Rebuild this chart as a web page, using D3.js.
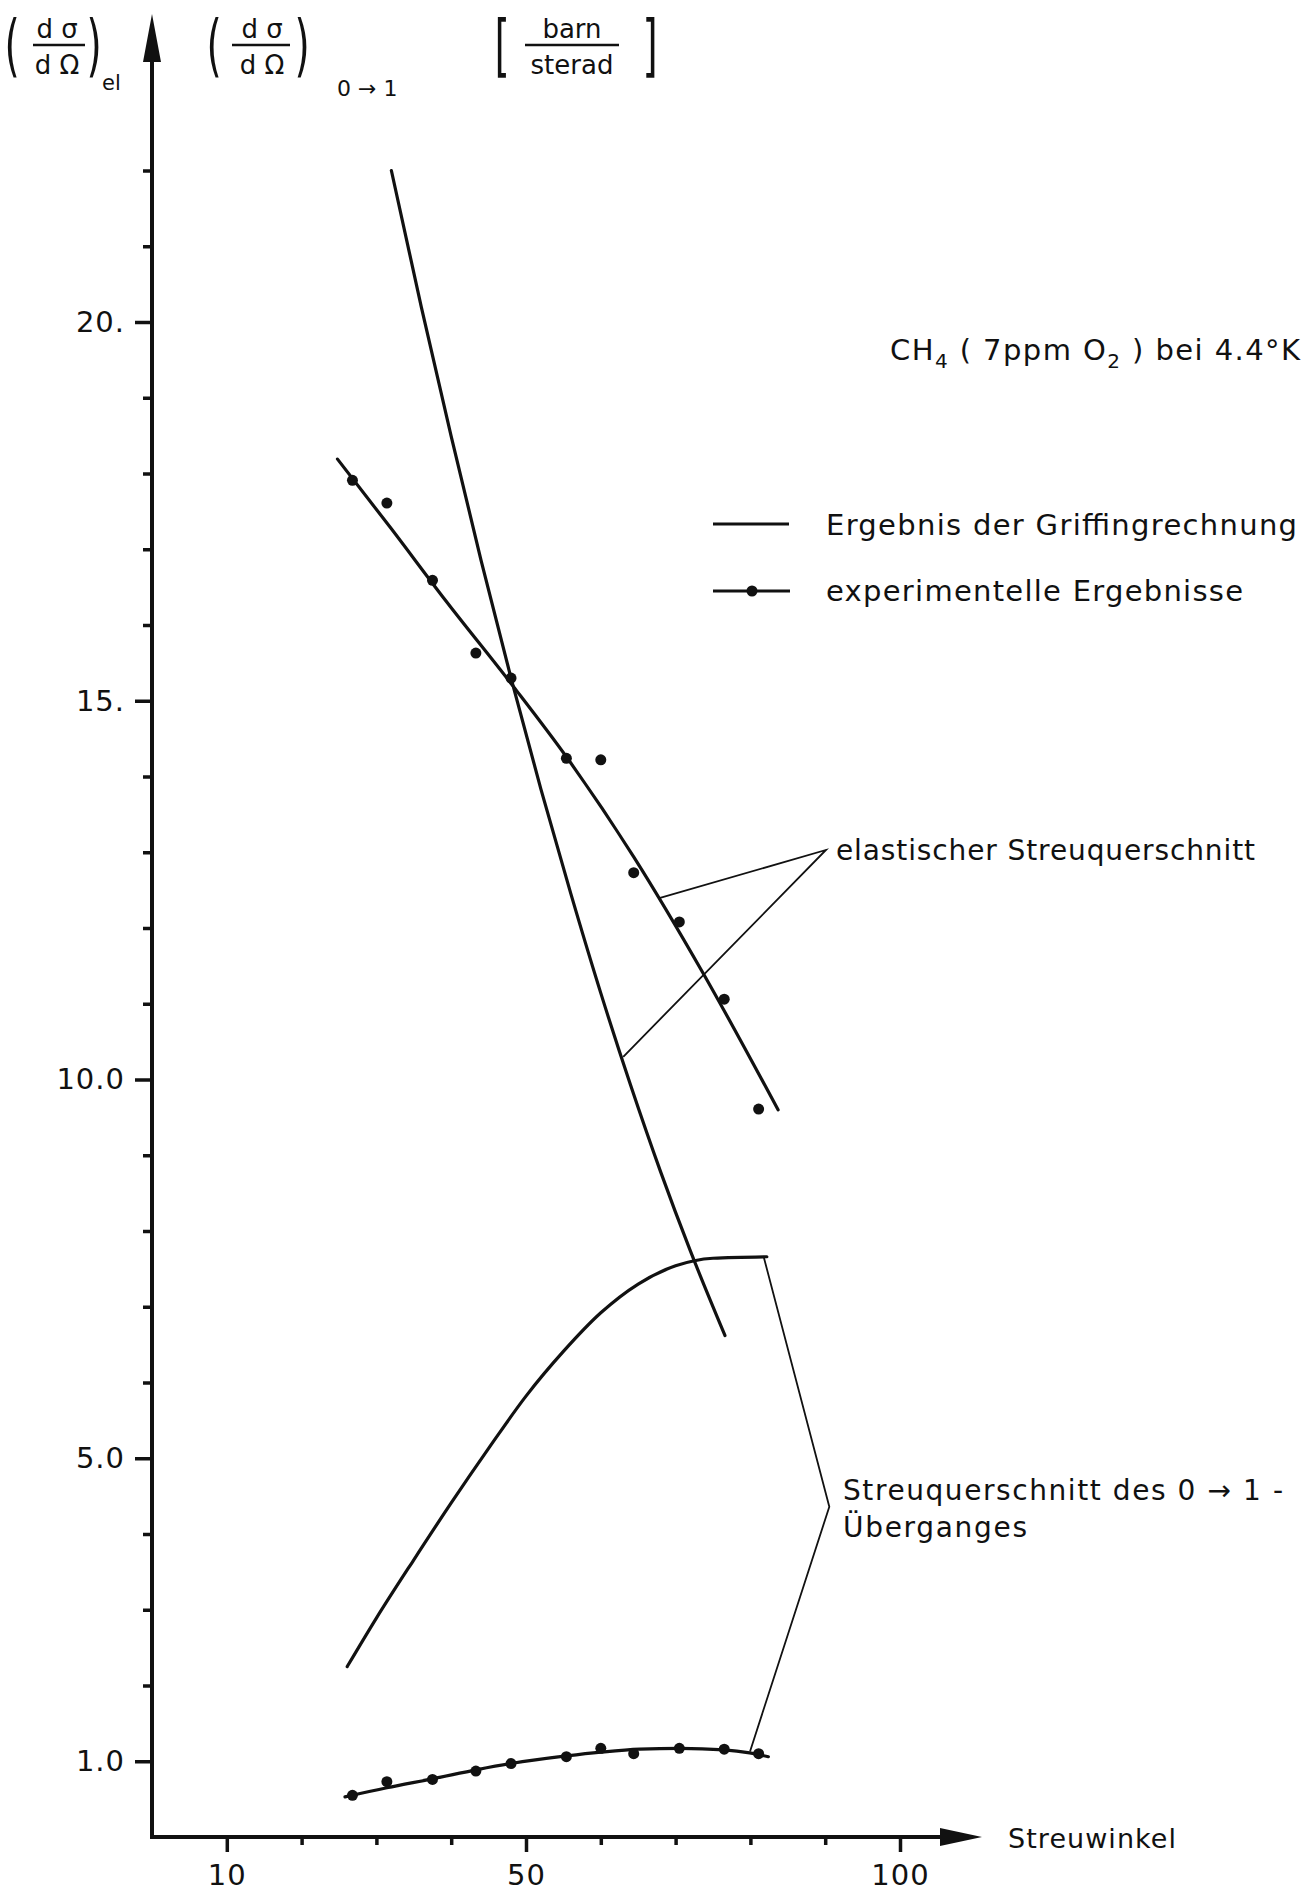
<!DOCTYPE html>
<html>
<head>
<meta charset="utf-8">
<title>CH4 Streuquerschnitt</title>
<style>
  body { margin: 0; background: #fff; }
  text { font-family: "DejaVu Sans", sans-serif; fill: #111; }
</style>
</head>
<body>
<svg id="chart" width="1316" height="1891"></svg>
<script src="https://cdnjs.cloudflare.com/ajax/libs/d3/7.8.5/d3.min.js"></script>
<script>

// experimental points (Streuwinkel in degrees)
const expAngle   = [26.8, 31.4, 37.5, 43.3, 48.0, 55.4, 60.0, 64.4, 70.5, 76.5, 81.1];
const expElastic = [17.91, 17.61, 16.59, 15.63, 15.30, 14.24, 14.22, 12.73, 12.08, 11.06, 9.61];
const expTrans   = [0.55, 0.73, 0.76, 0.87, 0.97, 1.06, 1.17, 1.10, 1.17, 1.16, 1.10];

// curves drawn through the experimental points
const fitElasticAngle = [24.8, 32, 39.2, 48.3, 55.4, 64.4, 73.7, 83.7];
const fitElasticValue = [18.19, 17.27, 16.33, 15.19, 14.26, 12.94, 11.40, 9.60];
const fitTransAngle = [25.8, 31.4, 37.6, 43.5, 48, 55.4, 60, 65.2, 70.6, 76.5, 79.9, 82.4];
const fitTransValue = [0.53, 0.65, 0.77, 0.89, 0.97, 1.07, 1.12, 1.16, 1.17, 1.15, 1.11, 1.06];

// Griffing calculation
const griffElasticAngle = [32, 36, 40, 44, 48, 52, 56, 60, 64, 68, 72, 76.6];
const griffElasticValue = [22.0, 20.2, 18.49, 16.85, 15.3, 13.83, 12.45, 11.14, 9.92, 8.78, 7.73, 6.62];
const griffTransAngle = [26.1, 30, 35, 40, 45, 50, 55, 60, 65, 70, 75, 82.2];
const griffTransValue = [2.25, 2.89, 3.66, 4.41, 5.13, 5.82, 6.41, 6.92, 7.3, 7.54, 7.64, 7.66];

// ticks
const xTicks = [10, 20, 30, 40, 50, 60, 70, 80, 90, 100];
const xTickLabels = {10: "10", 50: "50", 100: "100"};
const yTicks = d3.range(1, 23);
const yTickLabels = {1: "1.0", 5: "5.0", 10: "10.0", 15: "15.", 20: "20."};

// leader lines of the annotations, [angle, value]
const elasticLeaders = [[67.7, 12.39], [90.1, 13.03], [63.0, 10.3]];
const transLeaders = [[81.8, 7.65], [90.55, 4.36], [79.95, 1.13]];

let svg = d3.select("#chart");

let x = d3.scaleLinear().domain([0, 100]).range([152, 900]);
let y = d3.scaleLinear().domain([0, 22]).range([1837, 1837 - 22 * 75.75]);

let zip = (a, b) => a.map((v, i) => [v, b[i]]);

// axes: minor and major ticks
let gy = svg.append("g").attr("transform", "translate(152,0)");
gy.append("g").call(d3.axisLeft(y).tickValues(yTicks.filter(t => !yTickLabels[t])).tickSize(9).tickFormat(""));
gy.append("g").call(d3.axisLeft(y).tickValues(Object.keys(yTickLabels).map(Number))
    .tickSize(17).tickPadding(10).tickFormat(d => yTickLabels[d]));

let gx = svg.append("g").attr("transform", "translate(0,1837)");
gx.append("g").call(d3.axisBottom(x).tickValues(xTicks.filter(t => !xTickLabels[t])).tickSize(8).tickFormat(""));
gx.append("g").call(d3.axisBottom(x).tickValues(Object.keys(xTickLabels).map(Number))
    .tickSize(15).tickPadding(12).tickFormat(d => xTickLabels[d]));

svg.selectAll(".domain").remove();
svg.selectAll(".tick line").attr("stroke", "#111").attr("stroke-width", 3.5);
svg.selectAll(".tick text").attr("font-size", 29).attr("fill", "#111")
    .attr("letter-spacing", 1).style("font-family", "DejaVu Sans");

// axis lines with arrows
svg.append("path").attr("d", "M152,1839 L152,50").attr("stroke", "#111").attr("stroke-width", 4);
svg.append("path").attr("d", "M152,14 L161,62 L143,62 Z").attr("fill", "#111");
svg.append("path").attr("d", "M150,1837 L950,1837").attr("stroke", "#111").attr("stroke-width", 4);
svg.append("path").attr("d", "M982,1837 L940,1828 L940,1846 Z").attr("fill", "#111");

svg.append("text").attr("x", 1008).attr("y", 1848).attr("font-size", 27)
   .attr("textLength", 168).text("Streuwinkel");

// curves
let line = d3.line().x(d => x(d[0])).y(d => y(d[1])).curve(d3.curveMonotoneX);
let curves = [
  zip(fitElasticAngle, fitElasticValue),
  zip(fitTransAngle, fitTransValue),
  zip(griffElasticAngle, griffElasticValue),
  zip(griffTransAngle, griffTransValue)
];
svg.append("g").selectAll("path").data(curves).join("path")
   .attr("d", line).attr("fill", "none").attr("stroke", "#111").attr("stroke-width", 3.2)
   .attr("stroke-linecap", "round");

// points
let pts = zip(expAngle, expElastic).concat(zip(expAngle, expTrans));
svg.append("g").selectAll("circle").data(pts).join("circle")
   .attr("cx", d => x(d[0])).attr("cy", d => y(d[1])).attr("r", 5.5).attr("fill", "#111");

// leaders
let straight = d3.line().x(d => x(d[0])).y(d => y(d[1]));
svg.append("g").selectAll("path").data([elasticLeaders, transLeaders]).join("path")
   .attr("d", straight).attr("fill", "none").attr("stroke", "#111").attr("stroke-width", 1.8);

svg.append("text").attr("x", 836).attr("y", 860).attr("font-size", 28)
   .attr("textLength", 419).text("elastischer Streuquerschnitt");
svg.append("text").attr("x", 843).attr("y", 1500).attr("font-size", 28)
   .attr("textLength", 440).text("Streuquerschnitt des 0 \u2192 1 -");
svg.append("text").attr("x", 843).attr("y", 1537).attr("font-size", 28)
   .attr("textLength", 184).text("\u00dcberganges");

// sample info and legend
let ch = svg.append("text").attr("x", 890).attr("y", 360).attr("font-size", 29).attr("textLength", 410);
ch.append("tspan").text("CH");
ch.append("tspan").attr("font-size", 20).attr("dy", 8).text("4");
ch.append("tspan").attr("dy", -8).text("  ( 7ppm O");
ch.append("tspan").attr("font-size", 20).attr("dy", 8).text("2");
ch.append("tspan").attr("dy", -8).text(" ) bei 4.4\u00b0K");

let legend = svg.append("g");
legend.append("line").attr("x1", 713).attr("x2", 789).attr("y1", 524).attr("y2", 524)
   .attr("stroke", "#111").attr("stroke-width", 3.2);
legend.append("line").attr("x1", 713).attr("x2", 790).attr("y1", 591).attr("y2", 591)
   .attr("stroke", "#111").attr("stroke-width", 3.2);
legend.append("circle").attr("cx", 752).attr("cy", 591).attr("r", 5.5).attr("fill", "#111");
legend.append("text").attr("x", 826).attr("y", 535).attr("font-size", 29)
   .attr("textLength", 471).text("Ergebnis der Griffingrechnung");
legend.append("text").attr("x", 826).attr("y", 601).attr("font-size", 29)
   .attr("textLength", 417).text("experimentelle Ergebnisse");

// axis title
let title = svg.append("g").attr("font-size", 26);
function fraction(cx, top, bottom, x1, x2) {
  title.append("text").attr("x", cx).attr("y", 38).attr("text-anchor", "middle").text(top);
  title.append("line").attr("x1", x1).attr("x2", x2).attr("y1", 45).attr("y2", 45)
     .attr("stroke", "#111").attr("stroke-width", 2.5);
  title.append("text").attr("x", cx).attr("y", 74).attr("text-anchor", "middle").text(bottom);
}
function bracket(cx, ch) {
  title.append("text").attr("transform", `translate(${cx},69) scale(0.65,1.12)`)
     .attr("text-anchor", "middle").attr("font-size", 60).text(ch);
}
bracket(12, "("); fraction(57, "d \u03c3", "d \u03a9", 33, 85); bracket(94, ")");
title.append("text").attr("x", 102).attr("y", 90).attr("font-size", 21).text("el");
bracket(214, "("); fraction(262, "d \u03c3", "d \u03a9", 232, 290); bracket(302, ")");
title.append("text").attr("x", 337).attr("y", 96).attr("font-size", 22).text("0 \u2192 1");
bracket(502, "["); fraction(572, "barn", "sterad", 525, 619); bracket(650, "]");

</script>
</body>
</html>
